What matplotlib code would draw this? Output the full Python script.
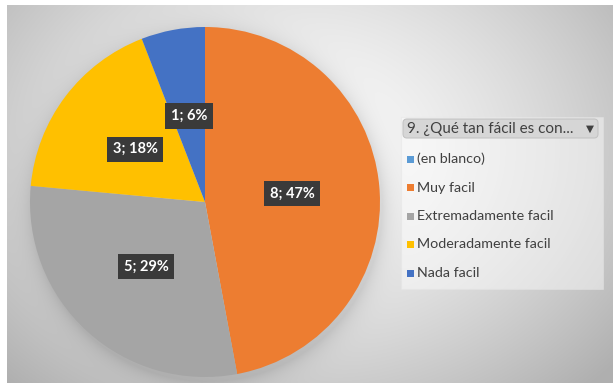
import numpy as np
import matplotlib.pyplot as plt
from matplotlib.patches import Rectangle, FancyBboxPatch

plt.rcParams['font.family'] = ['Lato', 'DejaVu Sans']

# respuestas de la pregunta 9
categorias = ['(en blanco)', 'Muy facil', 'Extremadamente facil',
              'Moderadamente facil', 'Nada facil']
conteos = [0, 8, 5, 3, 1]
colores = ['#5B9BD5', '#ED7D31', '#A5A5A5', '#FFC000', '#4472C4']
titulo_leyenda = '9. ¿Qué tan fácil es con...'

W, H = 613, 385
fig = plt.figure(figsize=(W / 100, H / 100), dpi=100)
fig.patch.set_facecolor('white')

# fondo con degradado radial y sombra suave del pastel
bx0, by0, bx1, by1 = 7, 5, 613, 383
bg = fig.add_axes([bx0 / W, (H - by1) / H, (bx1 - bx0) / W, (by1 - by0) / H])
yy, xx = np.mgrid[by0:by1, bx0:bx1].astype(float)
d = np.sqrt(((xx - 300) / 320) ** 2 + ((yy - 150) / 250) ** 2)
gris = 0.985 - 0.2 * np.clip(d, 0, 1.3) ** 1.5
cx, cy, r = 205, 202, 175
dp = np.sqrt((xx - cx - 2) ** 2 + (yy - cy - 4) ** 2)
sombra = 0.10 * np.exp(-np.clip(dp - r, 0, None) / 10.0)
gris = gris - sombra
img = np.dstack([gris, gris, gris])
bg.imshow(np.clip(img, 0, 1), aspect='auto', interpolation='bilinear')
bg.axis('off')

# pastel
ax = fig.add_axes([(cx - r) / W, (H - cy - r) / H, 2 * r / W, 2 * r / H])
total = sum(conteos)


def etiqueta(pct):
    n = int(round(pct * total / 100))
    return '' if n == 0 else f'{n}; {pct:.0f}%'


wedges, textos, autotextos = ax.pie(conteos, colors=colores, startangle=90,
                                    counterclock=False, radius=1,
                                    autopct=etiqueta, pctdistance=0.5,
                                    wedgeprops=dict(linewidth=0))
for t in autotextos:
    t.set_color('white')
    t.set_fontweight('bold')
    t.set_fontsize(10.5)
    t.set_bbox(dict(boxstyle='square,pad=0.38', fc='#3a3a3a', ec='none'))
ax.set_xlim(-1, 1)
ax.set_ylim(-1, 1)
ax.axis('off')

# leyenda dibujada a mano
lg = fig.add_axes([0, 0, 1, 1])
lg.set_xlim(0, W)
lg.set_ylim(H, 0)
lg.axis('off')
lg.add_patch(Rectangle((401, 117), 202, 172, fc='white', ec='#e4e4e4',
                       lw=0.8, alpha=0.45))
lg.add_patch(FancyBboxPatch((403, 119), 195, 19,
                            boxstyle='round,pad=0,rounding_size=4',
                            fc='#d6d6d6', ec='#c4c4c4', lw=0.8))
lg.text(407, 129, titulo_leyenda, fontsize=11, color='#404040',
        va='center', ha='left')
lg.text(594, 129, '▼', fontsize=7.5, color='#404040', va='center',
        ha='right', family='DejaVu Sans')
for i, (cat, col) in enumerate(zip(categorias, colores)):
    y = 159 + i * 28.5
    lg.add_patch(Rectangle((407, y - 3.5), 7, 7, fc=col, ec='none'))
    lg.text(417, y, cat, fontsize=10.3, color='#404040', va='center',
            ha='left')

fig.savefig('out.png', dpi=100)
